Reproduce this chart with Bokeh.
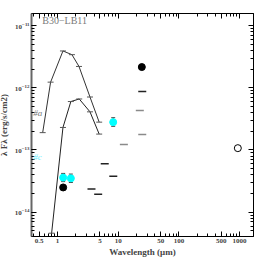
from bokeh.plotting import figure
from bokeh.models import LogAxis, FixedTicker, Label
from bokeh.embed import file_html
from bokeh.resources import INLINE

# model curves (wavelength um, lambda F_lambda erg/s/cm2)
upper_wl = [0.57, 0.77, 1.23, 1.73, 2.26, 3.43, 4.86]
upper_f = [1.9e-13, 1.23e-12, 3.9e-12, 3.4e-12, 2.2e-12, 7.1e-13, 2.8e-13]
lower_wl = [0.80, 1.23, 1.66, 2.28, 3.43, 4.86]
lower_f = [4.6e-15, 2.3e-13, 6.0e-13, 6.6e-13, 4.1e-13, 1.8e-13]

# cyan photometry with errors
cyan_wl = [1.24, 1.66, 8.27]
cyan_f = [3.6e-14, 3.5e-14, 2.8e-13]
cyan_lo = [3.1e-14, 3.0e-14, 2.4e-13]
cyan_hi = [4.2e-14, 4.1e-14, 3.3e-13]

# black detections
black_wl = [1.24, 24.5]
black_f = [2.5e-14, 2.15e-12]

# open circle
open_wl = [935.0]
open_f = [1.07e-13]

# horizontal dashes
dark_wl = [6.0, 8.3, 3.63, 4.68, 24.9]
dark_f = [6.0e-14, 3.8e-14, 2.35e-14, 1.95e-14, 8.7e-13]
gray_wl = [12.4, 22.7, 24.9]
gray_f = [1.23e-13, 4.3e-13, 1.78e-13]

xticks = [0.5, 1, 5, 10, 50, 100, 500, 1000]
xlabels = ["0.5", "1", "5", "10", "50", "100", "500", "1000"]
yticks = [1e-14, 1e-13, 1e-12, 1e-11]

x_minor = [m * 10.0 ** e for e in range(-1, 4) for m in range(1, 10)]
y_minor = [m * 10.0 ** e for e in range(-15, -10) for m in range(1, 10)]

FONT = "Liberation Serif"

p = figure(
    x_axis_type="log", y_axis_type="log",
    x_range=(0.373, 1694), y_range=(4.07e-15, 1.56e-11),
    frame_width=222, frame_height=223,
    output_backend="svg", toolbar_location=None,
    min_border_left=22, min_border_right=6, min_border_top=13, min_border_bottom=21,
    margin=(0, 0, 0, -5),
)
p.grid.visible = False
p.outline_line_color = "black"
p.outline_line_width = 1
p.background_fill_color = "white"
p.border_fill_color = "white"


def style_axis(ax, ticks, minor):
    ax.ticker = FixedTicker(ticks=ticks, minor_ticks=minor)
    ax.major_tick_in = 5
    ax.major_tick_out = 0
    ax.minor_tick_in = 3
    ax.minor_tick_out = 0
    ax.axis_line_color = "black"
    ax.major_tick_line_color = "black"
    ax.minor_tick_line_color = "black"
    ax.major_label_text_font = FONT
    ax.major_label_text_font_style = "bold"
    ax.major_label_text_font_size = "7px"
    ax.major_label_standoff = 2


style_axis(p.xaxis[0], xticks, x_minor)
p.xaxis[0].major_label_overrides = {t: l for t, l in zip(xticks, xlabels)}
style_axis(p.yaxis[0], yticks, y_minor)
p.yaxis[0].axis_line_color = "#666666"
p.yaxis[0].axis_line_width = 2

p.xaxis[0].axis_label = "Wavelength (\u03bcm)"
p.yaxis[0].axis_label = "\u03bb F\u03bb (erg/s/cm2)"
for ax in (p.xaxis[0], p.yaxis[0]):
    ax.axis_label_text_font = FONT
    ax.axis_label_text_font_style = "bold"
    ax.axis_label_text_font_size = "9px"
p.xaxis[0].axis_label_standoff = 1
p.yaxis[0].axis_label_standoff = 3

top = LogAxis()
style_axis(top, xticks, x_minor)
top.major_label_text_color = None
top.major_label_text_font_size = "1px"
top.major_label_standoff = 0
p.add_layout(top, "above")
right = LogAxis()
style_axis(right, yticks, y_minor)
right.major_label_text_color = None
right.major_label_text_font_size = "1px"
right.major_label_standoff = 0
p.add_layout(right, "right")

# curves
p.line(upper_wl, upper_f, line_color="#333333", line_width=1)
p.scatter(upper_wl, upper_f, marker="dash", size=6, line_color="#555555", line_width=1)
p.line(lower_wl, lower_f, line_color="#222222", line_width=1)
p.scatter(lower_wl, lower_f, marker="dash", size=6, line_color="#555555", line_width=1)

# cyan with error bars
p.segment(cyan_wl, cyan_lo, cyan_wl, cyan_hi, line_color="#444444", line_width=1)
p.scatter(cyan_wl, cyan_lo, marker="dash", size=4, line_color="#444444")
p.scatter(cyan_wl, cyan_hi, marker="dash", size=4, line_color="#444444")
p.scatter(cyan_wl, cyan_f, size=7, fill_color="cyan", line_color="cyan")

p.scatter(black_wl, black_f, size=7, fill_color="black", line_color="black")
p.scatter(open_wl, open_f, size=7, fill_color="white", line_color="black", line_width=1)

p.scatter(dark_wl, dark_f, marker="dash", size=8, line_color="#222222", line_width=1.5)
p.scatter(gray_wl, gray_f, marker="dash", size=8, line_color="#8a8a8a", line_width=1.5)

p.add_layout(Label(x=0.56, y=1.216e-11, text="B30\u2212LB11", text_font=FONT,
                   text_font_size="10px", text_color="#7a7a7a", text_baseline="middle"))
p.add_layout(Label(x=0.398, y=4.0e-13, text="#a", text_font=FONT, text_font_style="italic",
                   text_font_size="9px", text_color="#777777", text_baseline="middle"))
p.add_layout(Label(x=0.398, y=7.8e-14, text="#c", text_font=FONT, text_font_style="italic",
                   text_font_size="9px", text_color="#70f0ff", text_baseline="middle"))

open("out.html", "w").write(file_html(p, INLINE))
